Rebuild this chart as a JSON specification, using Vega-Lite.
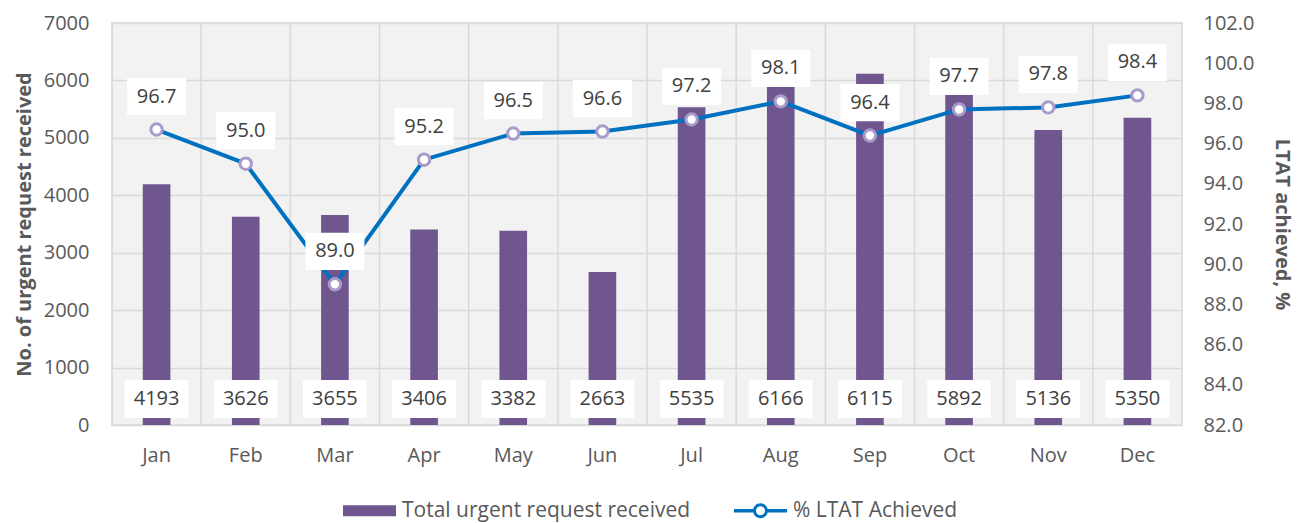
{
  "$schema": "https://vega.github.io/schema/vega-lite/v6.json",
  "width": 1070,
  "height": 402,
  "autosize": {"type": "none"},
  "padding": {"left": 112, "top": 23, "right": 125, "bottom": 98},
  "background": "white",
  "config": {
    "font": "Open Sans",
    "view": {"fill": "#f2f2f2", "stroke": "#d9d9d9", "strokeWidth": 1.5},
    "axis": {"labelFont": "Open Sans", "titleFont": "Open Sans", "labelColor": "#595959", "titleColor": "#595959", "labelFontSize": 20, "titleFontSize": 20, "titleFontWeight": "bold", "domain": false, "ticks": false, "gridColor": "#d9d9d9", "gridWidth": 1.5}
  },
  "data": {"values": [
    {"month": "Jan", "total": 4193, "pct": 96.7},
    {"month": "Feb", "total": 3626, "pct": 95.0},
    {"month": "Mar", "total": 3655, "pct": 89.0},
    {"month": "Apr", "total": 3406, "pct": 95.2},
    {"month": "May", "total": 3382, "pct": 96.5},
    {"month": "Jun", "total": 2663, "pct": 96.6},
    {"month": "Jul", "total": 5535, "pct": 97.2},
    {"month": "Aug", "total": 6166, "pct": 98.1},
    {"month": "Sep", "total": 6115, "pct": 96.4},
    {"month": "Oct", "total": 5892, "pct": 97.7},
    {"month": "Nov", "total": 5136, "pct": 97.8},
    {"month": "Dec", "total": 5350, "pct": 98.4}
  ]},
  "encoding": {
    "x": {"field": "month", "type": "nominal", "sort": null,
      "scale": {"paddingInner": 0, "paddingOuter": 0},
      "axis": {"title": null, "labelAngle": 0, "labelPadding": 20, "grid": false}}
  },
  "layer": [
    {
      "layer": [
        {"mark": {"type": "rule", "color": "#d9d9d9", "strokeWidth": 1.5},
         "encoding": {"x": {"field": "month", "type": "nominal", "sort": null, "bandPosition": 0}}},
        {"mark": {"type": "bar", "color": "#6F568F", "width": {"band": 0.31}},
         "encoding": {
           "y": {"field": "total", "type": "quantitative",
             "scale": {"domain": [0, 7000], "nice": false},
             "axis": {"title": "No. of urgent request received", "values": [0,1000,2000,3000,4000,5000,6000,7000], "format": "d", "labelPadding": 23, "titlePadding": 9, "grid": true}},
           "color": {"datum": "Total urgent request received", "type": "nominal",
             "scale": {"domain": ["Total urgent request received", "% LTAT Achieved"], "range": ["#6F568F", "#0070C0"]},
             "legend": {"title": null, "orient": "none", "direction": "horizontal", "legendX": 231, "legendY": 461,
               "labelFontSize": 21, "labelColor": "#595959", "labelFont": "Open Sans", "labelLimit": 0, "symbolSize": 2809, "columnPadding": 43, "labelOffset": 6,
               "encode": {"symbols": {"update": {
                 "shape": {"signal": "datum.value === '% LTAT Achieved' ? 'M-1,-0.07H-0.27V0.07H-1Z M0.27,-0.07H1V0.07H0.27Z M0.28,0A0.28,0.28 0 1 1 -0.28,0A0.28,0.28 0 1 1 0.28,0Z M0.17,0A0.17,0.17 0 1 0 -0.17,0A0.17,0.17 0 1 0 0.17,0Z' : 'M-1,-0.21H1V0.21H-1Z'"},
                 "strokeWidth": {"value": 0},
                 "opacity": {"value": 1}
               }}}}}
         }},
        {"mark": {"type": "point", "shape": "M-1.1,-0.655H1.1V0.655H-1.1Z", "filled": true, "color": "white", "opacity": 1, "size": 3364},
         "encoding": {"y": {"datum": 453, "type": "quantitative"}}},
        {"mark": {"type": "text", "fontSize": 20, "color": "#404040", "baseline": "middle", "font": "Open Sans"},
         "encoding": {"y": {"datum": 453, "type": "quantitative"}, "text": {"field": "total", "type": "quantitative", "format": "d"}}}
      ]
    },
    {
      "encoding": {
        "y": {"field": "pct", "type": "quantitative",
          "scale": {"domain": [82, 102], "nice": false},
          "axis": {"orient": "right", "title": "LTAT achieved, %", "values": [82,84,86,88,90,92,94,96,98,100,102], "format": ".1f", "labelPadding": 21, "titlePadding": 18, "grid": false}}
      },
      "layer": [
        {"mark": {"type": "line", "color": "#0070C0", "strokeWidth": 4}},
        {"mark": {"type": "point", "filled": true, "fill": "white", "stroke": "#A99BC9", "strokeWidth": 3, "size": 130, "opacity": 1}},
        {"mark": {"type": "point", "shape": "M-1,-0.63H1V0.63H-1Z", "filled": true, "color": "white", "opacity": 1, "size": 3481, "yOffset": -33}},
        {"mark": {"type": "text", "fontSize": 20, "color": "#404040", "baseline": "middle", "font": "Open Sans", "dy": -33},
         "encoding": {"text": {"field": "pct", "type": "quantitative", "format": ".1f"}}}
      ]
    }
  ],
  "resolve": {"scale": {"y": "independent"}}
}
